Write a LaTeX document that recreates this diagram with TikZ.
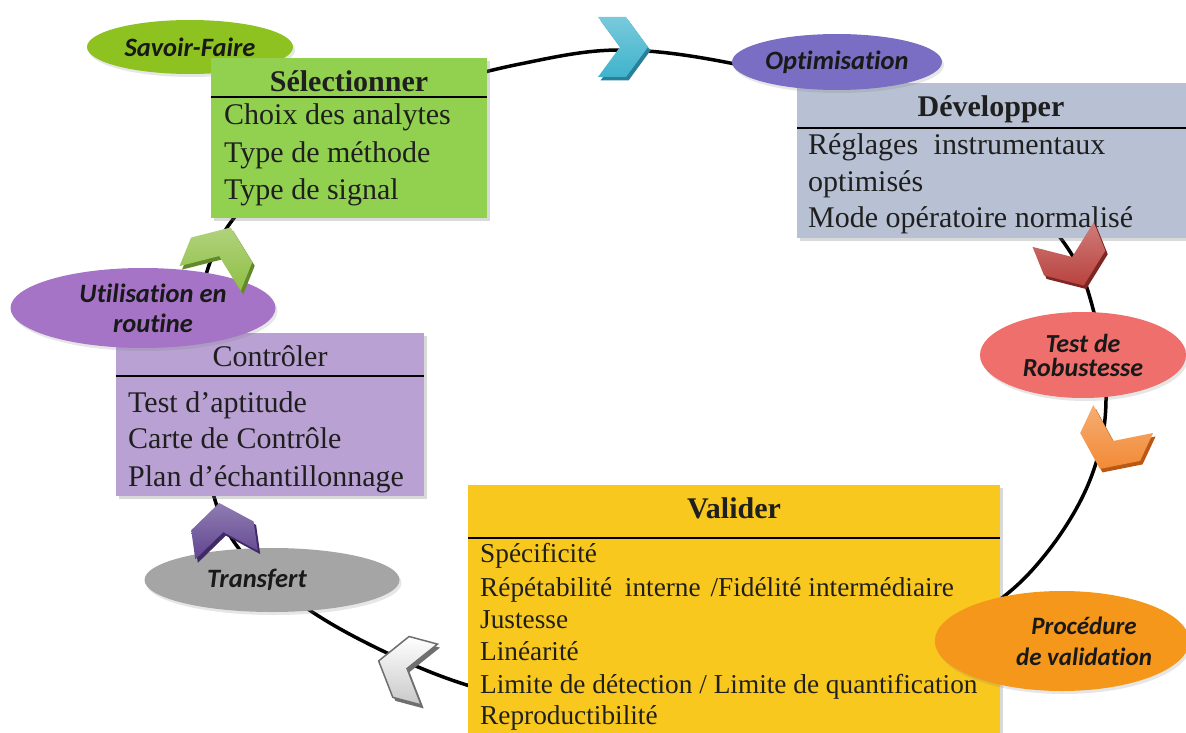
\documentclass[tikz,border=0pt]{standalone}
\usepackage{fontspec}
\setmainfont{Liberation Serif}
\newfontfamily\tagfont[Ligatures=NoCommon]{Carlito}
\usetikzlibrary{shapes.geometric,shadows}

% panel colours
\definecolor{selgreen}{HTML}{92D050}
\definecolor{devgray}{HTML}{B8C1D3}
\definecolor{ctlviolet}{HTML}{B9A1D3}
\definecolor{valgold}{HTML}{F9C81E}
% tag colours
\definecolor{tagsavoir}{HTML}{8DC220}
\definecolor{tagoptim}{HTML}{7A6EC4}
\definecolor{tagtest}{HTML}{EF6F6C}
\definecolor{tagproc}{HTML}{F4971A}
\definecolor{tagtransf}{HTML}{A5A5A5}
\definecolor{tagroutine}{HTML}{A574C6}
% chevron colours (face / edge)
\definecolor{chcyan}{HTML}{3FB3CC}\definecolor{chcyanD}{HTML}{2A8098}
\definecolor{chred}{HTML}{B9433F}\definecolor{chredD}{HTML}{7E2624}
\definecolor{chorange}{HTML}{F28A36}\definecolor{chorangeD}{HTML}{B85A16}
\definecolor{chpurple}{HTML}{604590}\definecolor{chpurpleD}{HTML}{3F2A66}
\definecolor{chgreen}{HTML}{8FBF45}\definecolor{chgreenD}{HTML}{628A2C}
\definecolor{chgray}{HTML}{C8C8C8}\definecolor{chgrayD}{HTML}{6F6F6F}

% a bevelled chevron: x, y, angle, scale, face colour, edge colour, extra options
\newcommand\drawchevron[7]{%
  \fill[#6, shift={(#1+2.5,#2+3.5)}, rotate=#3, scale=#4]
    (-24,30) -- (4,30) -- (26,0) -- (4,-30) -- (-24,-30) -- (-2,0) -- cycle;
  \shade[top color=#5!70!white, bottom color=#5, shift={(#1,#2)}, rotate=#3, scale=#4, #7]
    (-24,30) -- (4,30) -- (26,0) -- (4,-30) -- (-24,-30) -- (-2,0) -- cycle;
}

\begin{document}
\begin{tikzpicture}[x=1pt,y=-1pt,
  loopline/.style={line width=3.5pt, black},
  panel/.style={rectangle, inner sep=0pt, anchor=north west,
    drop shadow={opacity=0.3, shadow xshift=3pt, shadow yshift=-3pt}},
  head/.style={font=\fontsize{30}{36}\selectfont\bfseries, text=black!88, inner sep=0pt, anchor=base},
  plainhead/.style={font=\fontsize{30}{36}\selectfont, text=black!88, inner sep=0pt, anchor=base},
  entry/.style={font=\fontsize{30}{36}\selectfont, text=black!88, inner sep=0pt, anchor=base west},
  smallentry/.style={font=\fontsize{27.3}{32}\selectfont, text=black!88, inner sep=0pt, anchor=base west},
  rulebar/.style={line width=2.8pt, black},
  tag/.style={ellipse, inner sep=0pt, align=center,
    font=\tagfont\bfseries\itshape\fontsize{26.5}{30}\selectfont, text=black!90,
    drop shadow={opacity=0.2, shadow xshift=2pt, shadow yshift=-3pt}}
]
\useasboundingbox (0,0) rectangle (1186,733);
\begin{scope}
\clip (0,0) rectangle (1186,733);

% the cycle
\draw[loopline] plot[smooth cycle, tension=0.6] coordinates {
  (620,50) (735,64) (870,100) (990,165) (1062,240) (1092,305) (1106,400)
  (1090,480) (1045,555) (985,610) (880,665) (700,705) (560,705) (470,686)
  (385,652) (305,607) (240,550) (212,490) (196,400) (200,310) (213,255)
  (245,205) (330,125) (430,88) (520,64)};

% tag behind the first panel
\node[tag, fill=tagsavoir, minimum width=206, minimum height=54] (savoir) at (190,47) {Savoir-Faire};

% Sélectionner
\node[panel, fill=selgreen, minimum width=276, minimum height=160] (sel) at (211,58) {};
\node[head] (selH) at (349,92) {Sélectionner};
\draw[rulebar] ([yshift=-39pt]sel.north west) -- ([yshift=-39pt]sel.north east);
\node[entry] (sel1) at (224,125) {Choix des analytes};
\node[entry] (sel2) at (224,163) {Type de méthode};
\node[entry] (sel3) at (224,199) {Type de signal};

% Développer
\node[panel, fill=devgray, minimum width=400, minimum height=155] (dev) at (797,83) {};
\node[head] (devH) at (991,117) {Développer};
\draw[rulebar] ([yshift=-45pt]dev.north west) -- ([yshift=-45pt]dev.north east);
\node[entry] (dev1) at (808,155) {Réglages\hspace{8pt} instrumentaux};
\node[entry] (dev2) at (808,191) {optimisés};
\node[entry] (dev3) at (808,227) {Mode opératoire normalisé};

% Contrôler
\node[panel, fill=ctlviolet, minimum width=308, minimum height=163] (ctl) at (116,333) {};
\node[plainhead] (ctlH) at (270,366) {Contrôler};
\draw[rulebar] ([yshift=-43pt]ctl.north west) -- ([yshift=-43pt]ctl.north east);
\node[entry] (ctl1) at (128,412) {Test d’aptitude};
\node[entry] (ctl2) at (128,448) {Carte de Contrôle};
\node[entry] (ctl3) at (128,486) {Plan d’échantillonnage};

% Valider
\node[panel, fill=valgold, minimum width=532, minimum height=270] (val) at (468,485) {};
\node[head] (valH) at (734,518) {Valider};
\draw[rulebar] ([yshift=-53pt]val.north west) -- ([yshift=-53pt]val.north east);
\node[smallentry] (val1) at (480,562) {Spécificité};
\node[smallentry] (val2) at (480,596) {Répétabilité\hspace{6pt} interne\hspace{3pt} /Fidélité intermédiaire};
\node[smallentry] (val3) at (480,628) {Justesse};
\node[smallentry] (val4) at (480,660) {Linéarité};
\node[smallentry] (val5) at (480,693) {Limite de détection / Limite de quantification};
\node[smallentry] (val6) at (480,724) {Reproductibilité};

% tags over the cycle
\node[tag, fill=tagoptim, minimum width=210, minimum height=56] (optim) at (837,62) {Optimisation};
\node[tag, fill=tagtest, minimum width=206, minimum height=86,
      font=\tagfont\bfseries\itshape\fontsize{26}{24}\selectfont] (test) at (1083,355) {Test de\\Robustesse};
\node[tag, fill=tagproc, minimum width=250, minimum height=100,
      font=\tagfont\bfseries\itshape\fontsize{25}{31}\selectfont] (proc) at (1062,641) {\hspace*{44pt}Procédure\\\hspace*{44pt}de validation};
\node[tag, fill=tagtransf, minimum width=255, minimum height=64] (transf) at (272,580) {Transfert\hspace*{30pt}};
\node[tag, fill=tagroutine, minimum width=265, minimum height=80] (routine) at (143,308) {\hspace*{20pt}Utilisation en\\\hspace*{20pt}routine};

% chevrons along the cycle
\drawchevron{622}{47}{0}{1}{chcyan}{chcyanD}{}
\drawchevron{1073}{259}{-68}{1.1}{chred}{chredD}{}
\drawchevron{1112}{443}{-115}{1.1}{chorange}{chorangeD}{}
\drawchevron{405}{668}{165}{1.05}{chgray}{chgrayD}{top color=white, bottom color=chgray, draw=chgrayD, line width=1.5pt}
\drawchevron{223}{530}{98}{1.05}{chpurple}{chpurpleD}{}
\drawchevron{220}{254}{68}{1.1}{chgreen}{chgreenD}{}
\end{scope}
\end{tikzpicture}
\end{document}
